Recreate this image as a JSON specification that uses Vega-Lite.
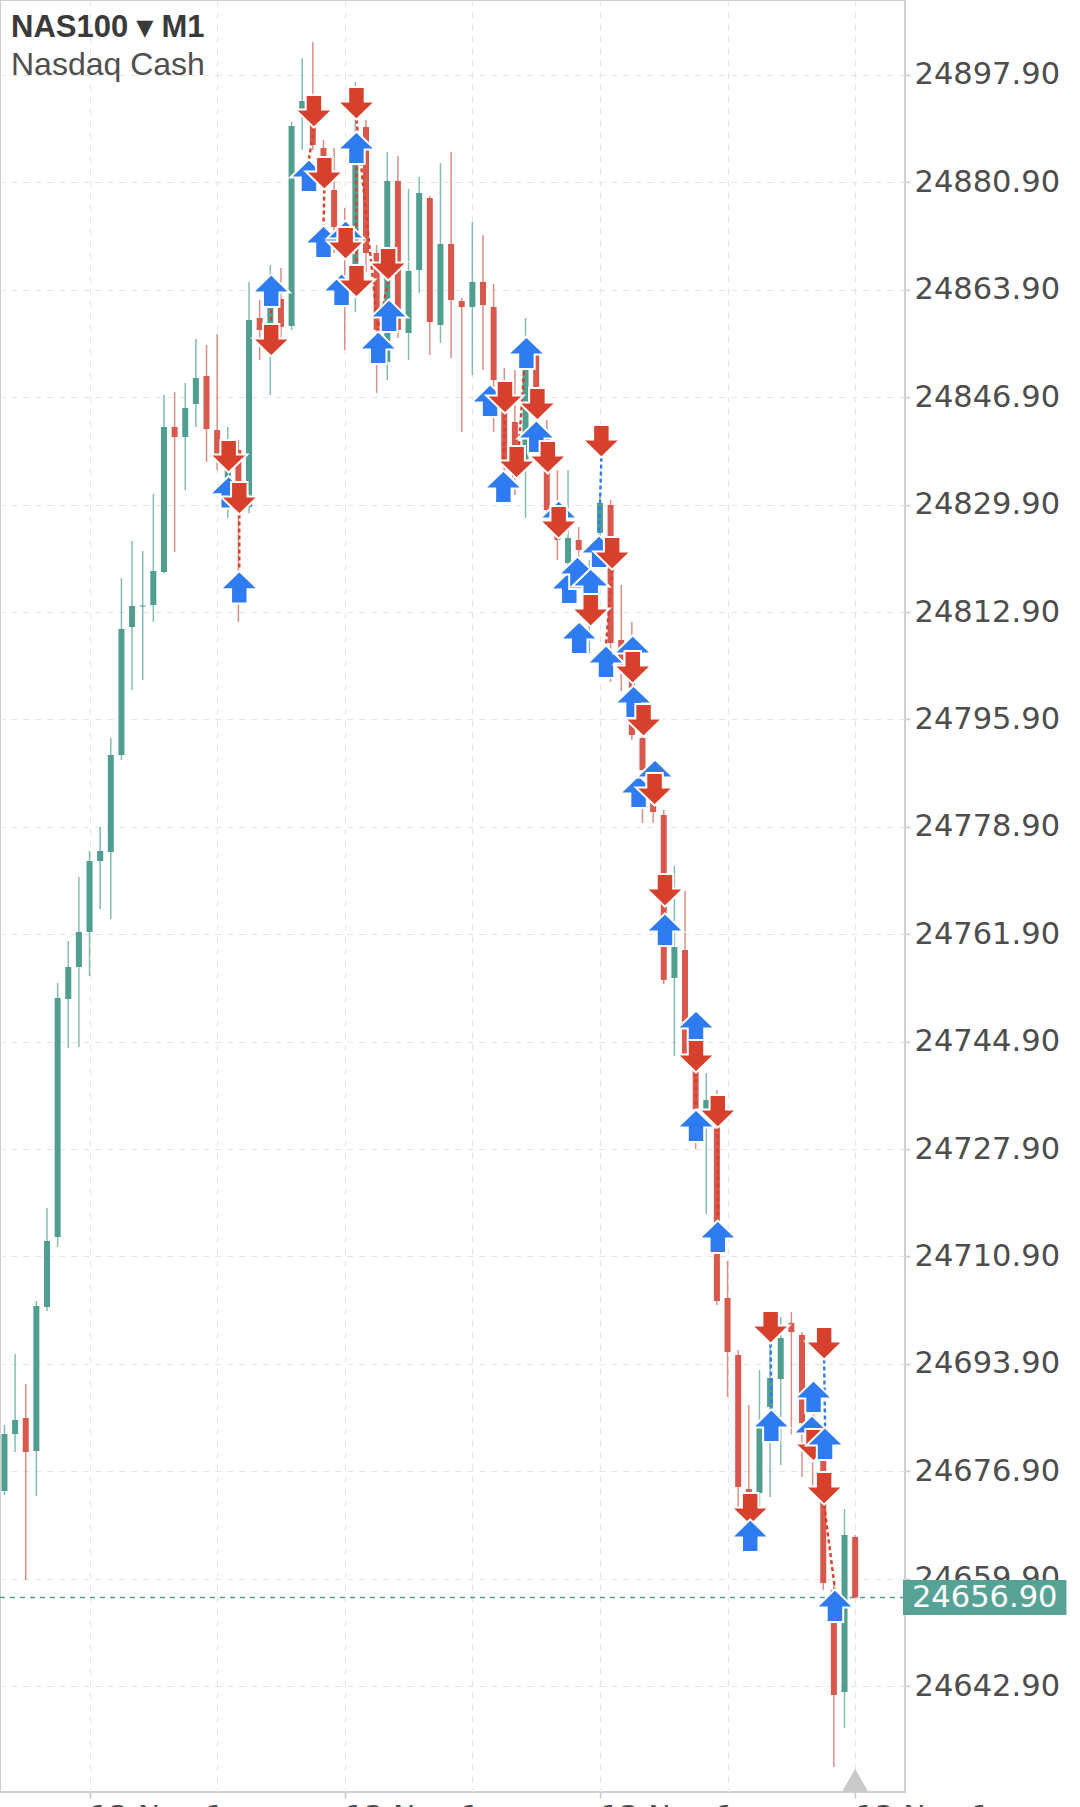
{
  "$schema": "https://vega.github.io/schema/vega-lite/v6.json",
  "width": 905,
  "height": 1792,
  "autosize": {"type": "none"},
  "padding": {"left": 0, "top": 0, "right": 175, "bottom": 15},
  "background": "white",
  "title": {
    "text": "NAS100 ▾ M1",
    "subtitle": "Nasdaq Cash",
    "anchor": "start",
    "frame": "group",
    "orient": "top",
    "offset": -82,
    "dx": 11,
    "font": "Liberation Sans",
    "fontSize": 31,
    "fontWeight": "bold",
    "color": "#3a3a3a",
    "subtitleFont": "Liberation Sans",
    "subtitleFontSize": 32,
    "subtitleFontWeight": "normal",
    "subtitleColor": "#505050",
    "subtitlePadding": 6
  },
  "datasets": {
    "candles": [
      {"t":"2025-11-13T16:48:00","o":24673.78,"h":24684.22,"l":24673.14,"c":24682.80},
      {"t":"2025-11-13T16:49:00","o":24682.80,"h":24695.46,"l":24679.95,"c":24685.01},
      {"t":"2025-11-13T16:50:00","o":24685.33,"h":24690.71,"l":24659.69,"c":24679.95},
      {"t":"2025-11-13T16:51:00","o":24680.11,"h":24703.85,"l":24672.98,"c":24703.06},
      {"t":"2025-11-13T16:52:00","o":24702.90,"h":24718.57,"l":24702.27,"c":24713.34},
      {"t":"2025-11-13T16:53:00","o":24713.98,"h":24754.18,"l":24712.39,"c":24751.81},
      {"t":"2025-11-13T16:54:00","o":24751.65,"h":24760.83,"l":24743.89,"c":24756.71},
      {"t":"2025-11-13T16:55:00","o":24756.71,"h":24770.96,"l":24744.05,"c":24762.25},
      {"t":"2025-11-13T16:56:00","o":24762.25,"h":24775.07,"l":24755.29,"c":24773.49},
      {"t":"2025-11-13T16:57:00","o":24773.49,"h":24778.87,"l":24765.89,"c":24775.07},
      {"t":"2025-11-13T16:58:00","o":24774.92,"h":24792.96,"l":24764.31,"c":24790.27},
      {"t":"2025-11-13T16:59:00","o":24790.27,"h":24818.28,"l":24789.48,"c":24810.21},
      {"t":"2025-11-13T17:00:00","o":24810.53,"h":24824.14,"l":24800.56,"c":24813.85},
      {"t":"2025-11-13T17:01:00","o":24813.77,"h":24822.56,"l":24802.14,"c":24813.93},
      {"t":"2025-11-13T17:02:00","o":24814.01,"h":24831.58,"l":24811.32,"c":24819.39},
      {"t":"2025-11-13T17:03:00","o":24819.23,"h":24847.25,"l":24819.08,"c":24842.18},
      {"t":"2025-11-13T17:04:00","o":24842.18,"h":24847.72,"l":24822.40,"c":24840.60},
      {"t":"2025-11-13T17:05:00","o":24840.60,"h":24849.15,"l":24832.21,"c":24845.19},
      {"t":"2025-11-13T17:06:00","o":24845.82,"h":24856.11,"l":24842.18,"c":24849.94},
      {"t":"2025-11-13T17:07:00","o":24850.26,"h":24855.16,"l":24836.64,"c":24841.87},
      {"t":"2025-11-13T17:08:00","o":24841.71,"h":24856.90,"l":24835.38,"c":24837.44},
      {"t":"2025-11-13T17:09:00","o":24833.80,"h":24842.18,"l":24827.78,"c":24835.38},
      {"t":"2025-11-13T17:10:00","o":24838.54,"h":24840.13,"l":24811.32,"c":24833.00},
      {"t":"2025-11-13T17:11:00","o":24829.52,"h":24865.14,"l":24828.57,"c":24859.12},
      {"t":"2025-11-13T17:12:00","o":24859.44,"h":24862.29,"l":24852.79,"c":24857.54},
      {"t":"2025-11-13T17:13:00","o":24857.54,"h":24867.83,"l":24847.25,"c":24862.29},
      {"t":"2025-11-13T17:14:00","o":24862.44,"h":24867.35,"l":24855.95,"c":24858.01},
      {"t":"2025-11-13T17:15:00","o":24858.17,"h":24890.46,"l":24857.54,"c":24889.83},
      {"t":"2025-11-13T17:16:00","o":24892.04,"h":24900.59,"l":24886.03,"c":24893.78},
      {"t":"2025-11-13T17:17:00","o":24894.26,"h":24903.12,"l":24886.03,"c":24886.82},
      {"t":"2025-11-13T17:18:00","o":24886.34,"h":24887.61,"l":24879.70,"c":24883.97},
      {"t":"2025-11-13T17:19:00","o":24879.70,"h":24886.34,"l":24869.73,"c":24873.84},
      {"t":"2025-11-13T17:20:00","o":24873.05,"h":24876.85,"l":24854.37,"c":24869.41},
      {"t":"2025-11-13T17:21:00","o":24866.72,"h":24896.79,"l":24860.39,"c":24884.92},
      {"t":"2025-11-13T17:22:00","o":24889.67,"h":24890.78,"l":24866.72,"c":24869.73},
      {"t":"2025-11-13T17:23:00","o":24869.73,"h":24870.99,"l":24847.57,"c":24857.54},
      {"t":"2025-11-13T17:24:00","o":24852.47,"h":24885.71,"l":24849.62,"c":24881.12},
      {"t":"2025-11-13T17:25:00","o":24881.12,"h":24885.08,"l":24856.27,"c":24857.54},
      {"t":"2025-11-13T17:26:00","o":24857.06,"h":24879.86,"l":24852.79,"c":24866.88},
      {"t":"2025-11-13T17:27:00","o":24867.03,"h":24881.75,"l":24863.39,"c":24879.22},
      {"t":"2025-11-13T17:28:00","o":24878.43,"h":24878.75,"l":24853.58,"c":24858.80},
      {"t":"2025-11-13T17:29:00","o":24858.33,"h":24883.97,"l":24855.48,"c":24871.15},
      {"t":"2025-11-13T17:30:00","o":24871.15,"h":24885.71,"l":24853.11,"c":24862.29},
      {"t":"2025-11-13T17:31:00","o":24862.13,"h":24862.60,"l":24841.39,"c":24861.18},
      {"t":"2025-11-13T17:32:00","o":24861.18,"h":24874.63,"l":24850.41,"c":24865.14},
      {"t":"2025-11-13T17:33:00","o":24865.14,"h":24872.57,"l":24851.21,"c":24861.49},
      {"t":"2025-11-13T17:34:00","o":24861.18,"h":24864.82,"l":24841.39,"c":24849.62},
      {"t":"2025-11-13T17:35:00","o":24848.83,"h":24851.52,"l":24830.16,"c":24836.96},
      {"t":"2025-11-13T17:36:00","o":24842.98,"h":24851.21,"l":24831.42,"c":24834.27},
      {"t":"2025-11-13T17:37:00","o":24836.96,"h":24859.44,"l":24827.78,"c":24852.00},
      {"t":"2025-11-13T17:38:00","o":24853.90,"h":24855.16,"l":24840.13,"c":24843.61},
      {"t":"2025-11-13T17:39:00","o":24840.60,"h":24843.29,"l":24827.46,"c":24829.05},
      {"t":"2025-11-13T17:40:00","o":24829.84,"h":24835.38,"l":24821.13,"c":24824.30},
      {"t":"2025-11-13T17:41:00","o":24820.66,"h":24835.38,"l":24815.28,"c":24824.62},
      {"t":"2025-11-13T17:42:00","o":24824.30,"h":24826.36,"l":24821.13,"c":24822.72},
      {"t":"2025-11-13T17:43:00","o":24814.80,"h":24821.13,"l":24806.41,"c":24815.28},
      {"t":"2025-11-13T17:44:00","o":24825.41,"h":24831.42,"l":24823.51,"c":24830.16},
      {"t":"2025-11-13T17:45:00","o":24829.84,"h":24830.63,"l":24801.82,"c":24808.00},
      {"t":"2025-11-13T17:46:00","o":24808.47,"h":24817.18,"l":24800.40,"c":24803.56},
      {"t":"2025-11-13T17:47:00","o":24803.41,"h":24811.32,"l":24792.64,"c":24793.43},
      {"t":"2025-11-13T17:48:00","o":24792.96,"h":24798.50,"l":24779.51,"c":24787.89},
      {"t":"2025-11-13T17:49:00","o":24787.58,"h":24789.48,"l":24779.51,"c":24781.25},
      {"t":"2025-11-13T17:50:00","o":24780.77,"h":24781.56,"l":24754.02,"c":24754.66},
      {"t":"2025-11-13T17:51:00","o":24754.97,"h":24772.70,"l":24742.63,"c":24759.88},
      {"t":"2025-11-13T17:52:00","o":24759.40,"h":24768.74,"l":24741.99,"c":24742.63},
      {"t":"2025-11-13T17:53:00","o":24741.99,"h":24743.58,"l":24727.91,"c":24734.24},
      {"t":"2025-11-13T17:54:00","o":24733.92,"h":24739.94,"l":24717.62,"c":24735.66},
      {"t":"2025-11-13T17:55:00","o":24736.30,"h":24737.24,"l":24703.21,"c":24703.85},
      {"t":"2025-11-13T17:56:00","o":24704.32,"h":24710.18,"l":24688.65,"c":24695.77},
      {"t":"2025-11-13T17:57:00","o":24695.30,"h":24696.09,"l":24670.77,"c":24674.41},
      {"t":"2025-11-13T17:58:00","o":24674.09,"h":24687.39,"l":24664.44,"c":24673.62},
      {"t":"2025-11-13T17:59:00","o":24673.46,"h":24692.93,"l":24671.24,"c":24683.90},
      {"t":"2025-11-13T18:00:00","o":24687.07,"h":24700.05,"l":24672.83,"c":24691.66},
      {"t":"2025-11-13T18:01:00","o":24691.50,"h":24701.31,"l":24677.89,"c":24697.99},
      {"t":"2025-11-13T18:02:00","o":24700.37,"h":24702.11,"l":24682.64,"c":24698.94},
      {"t":"2025-11-13T18:03:00","o":24698.47,"h":24698.94,"l":24675.99,"c":24684.54},
      {"t":"2025-11-13T18:04:00","o":24684.22,"h":24688.18,"l":24674.25,"c":24678.68},
      {"t":"2025-11-13T18:05:00","o":24679.47,"h":24681.85,"l":24658.10,"c":24659.21},
      {"t":"2025-11-13T18:06:00","o":24658.10,"h":24658.90,"l":24630.09,"c":24641.49},
      {"t":"2025-11-13T18:07:00","o":24641.96,"h":24670.93,"l":24636.26,"c":24666.81},
      {"t":"2025-11-13T18:08:00","o":24666.49,"h":24666.80,"l":24656.90,"c":24656.90}
    ],
    "trades": [
      {"t1":"2025-11-13T17:10:05","p1":24828.32,"t2":"2025-11-13T17:10:05","p2":24819.39,"side":"sell"},
      {"t1":"2025-11-13T17:13:05","p1":24866.34,"t2":"2025-11-13T17:13:05","p2":24853.33,"side":"sell"},
      {"t1":"2025-11-13T17:17:06","p1":24889.57,"t2":"2025-11-13T17:16:38","p2":24884.54,"side":"sell"},
      {"t1":"2025-11-13T17:18:05","p1":24879.76,"t2":"2025-11-13T17:18:00","p2":24874.09,"side":"sell"},
      {"t1":"2025-11-13T17:21:06","p1":24890.84,"t2":"2025-11-13T17:23:09","p2":24857.32,"side":"sell"},
      {"t1":"2025-11-13T17:21:06","p1":24888.97,"t2":"2025-11-13T17:21:06","p2":24862.67,"side":"sell"},
      {"t1":"2025-11-13T17:24:05","p1":24865.36,"t2":"2025-11-13T17:23:09","p2":24857.32,"side":"sell"},
      {"t1":"2025-11-13T17:35:04","p1":24844.31,"t2":"2025-11-13T17:34:55","p2":24835.31,"side":"sell"},
      {"t1":"2025-11-13T17:37:05","p1":24856.52,"t2":"2025-11-13T17:36:10","p2":24834.02,"side":"sell"},
      {"t1":"2025-11-13T17:38:01","p1":24843.23,"t2":"2025-11-13T17:39:06","p2":24834.81,"side":"buy"},
      {"t1":"2025-11-13T17:44:08","p1":24837.34,"t2":"2025-11-13T17:43:55","p2":24825.03,"side":"buy"},
      {"t1":"2025-11-13T17:45:09","p1":24819.61,"t2":"2025-11-13T17:44:34","p2":24807.62,"side":"sell"},
      {"t1":"2025-11-13T17:53:02","p1":24740.00,"t2":"2025-11-13T17:53:02","p2":24734.17,"side":"sell"},
      {"t1":"2025-11-13T17:55:05","p1":24731.29,"t2":"2025-11-13T17:55:05","p2":24716.60,"side":"sell"},
      {"t1":"2025-11-13T18:00:03","p1":24697.10,"t2":"2025-11-13T18:00:07","p2":24686.69,"side":"buy"},
      {"t1":"2025-11-13T18:04:05","p1":24691.28,"t2":"2025-11-13T18:04:05","p2":24678.43,"side":"sell"},
      {"t1":"2025-11-13T18:05:05","p1":24694.57,"t2":"2025-11-13T18:05:10","p2":24683.84,"side":"buy"},
      {"t1":"2025-11-13T18:05:05","p1":24671.62,"t2":"2025-11-13T18:06:06","p2":24658.20,"side":"sell"}
    ],
    "orders": [
      {"t":"2025-11-13T17:09:05","p":24834.97,"side":"sell"},
      {"t":"2025-11-13T17:09:05","p":24834.43,"side":"buy"},
      {"t":"2025-11-13T17:10:05","p":24828.32,"side":"sell"},
      {"t":"2025-11-13T17:10:05","p":24819.39,"side":"buy"},
      {"t":"2025-11-13T17:13:05","p":24866.34,"side":"buy"},
      {"t":"2025-11-13T17:13:05","p":24853.33,"side":"sell"},
      {"t":"2025-11-13T17:16:38","p":24884.54,"side":"buy"},
      {"t":"2025-11-13T17:17:06","p":24889.57,"side":"sell"},
      {"t":"2025-11-13T17:18:00","p":24874.09,"side":"buy"},
      {"t":"2025-11-13T17:18:05","p":24879.76,"side":"sell"},
      {"t":"2025-11-13T17:19:42","p":24866.50,"side":"buy"},
      {"t":"2025-11-13T17:20:05","p":24874.89,"side":"buy"},
      {"t":"2025-11-13T17:20:05","p":24868.68,"side":"sell"},
      {"t":"2025-11-13T17:21:06","p":24862.67,"side":"sell"},
      {"t":"2025-11-13T17:21:06","p":24890.84,"side":"sell"},
      {"t":"2025-11-13T17:21:06","p":24888.97,"side":"buy"},
      {"t":"2025-11-13T17:23:09","p":24857.32,"side":"buy"},
      {"t":"2025-11-13T17:24:05","p":24865.36,"side":"sell"},
      {"t":"2025-11-13T17:24:10","p":24862.38,"side":"buy"},
      {"t":"2025-11-13T17:33:40","p":24848.93,"side":"buy"},
      {"t":"2025-11-13T17:35:04","p":24844.31,"side":"sell"},
      {"t":"2025-11-13T17:34:55","p":24835.31,"side":"buy"},
      {"t":"2025-11-13T17:36:10","p":24834.02,"side":"sell"},
      {"t":"2025-11-13T17:37:05","p":24856.52,"side":"buy"},
      {"t":"2025-11-13T17:38:07","p":24843.20,"side":"sell"},
      {"t":"2025-11-13T17:38:01","p":24843.23,"side":"buy"},
      {"t":"2025-11-13T17:39:06","p":24834.81,"side":"sell"},
      {"t":"2025-11-13T17:40:07","p":24830.57,"side":"buy"},
      {"t":"2025-11-13T17:40:07","p":24824.52,"side":"sell"},
      {"t":"2025-11-13T17:41:07","p":24819.33,"side":"buy"},
      {"t":"2025-11-13T17:41:53","p":24821.70,"side":"buy"},
      {"t":"2025-11-13T17:43:08","p":24819.80,"side":"buy"},
      {"t":"2025-11-13T17:43:08","p":24810.59,"side":"sell"},
      {"t":"2025-11-13T17:42:03","p":24811.41,"side":"buy"},
      {"t":"2025-11-13T17:44:08","p":24837.34,"side":"sell"},
      {"t":"2025-11-13T17:43:55","p":24825.03,"side":"buy"},
      {"t":"2025-11-13T17:45:09","p":24819.61,"side":"sell"},
      {"t":"2025-11-13T17:44:34","p":24807.62,"side":"buy"},
      {"t":"2025-11-13T17:47:05","p":24809.20,"side":"buy"},
      {"t":"2025-11-13T17:47:05","p":24801.57,"side":"sell"},
      {"t":"2025-11-13T17:47:10","p":24801.28,"side":"buy"},
      {"t":"2025-11-13T17:48:06","p":24793.18,"side":"sell"},
      {"t":"2025-11-13T17:47:38","p":24787.04,"side":"buy"},
      {"t":"2025-11-13T17:49:11","p":24789.57,"side":"buy"},
      {"t":"2025-11-13T17:49:08","p":24782.26,"side":"sell"},
      {"t":"2025-11-13T17:50:07","p":24766.27,"side":"sell"},
      {"t":"2025-11-13T17:50:07","p":24765.20,"side":"buy"},
      {"t":"2025-11-13T17:53:02","p":24749.84,"side":"buy"},
      {"t":"2025-11-13T17:53:02","p":24740.00,"side":"sell"},
      {"t":"2025-11-13T17:53:02","p":24734.17,"side":"buy"},
      {"t":"2025-11-13T17:55:05","p":24731.29,"side":"sell"},
      {"t":"2025-11-13T17:55:05","p":24716.60,"side":"buy"},
      {"t":"2025-11-13T17:58:08","p":24668.30,"side":"sell"},
      {"t":"2025-11-13T17:58:08","p":24669.28,"side":"buy"},
      {"t":"2025-11-13T18:00:03","p":24697.10,"side":"sell"},
      {"t":"2025-11-13T18:00:07","p":24686.69,"side":"buy"},
      {"t":"2025-11-13T18:05:05","p":24694.57,"side":"sell"},
      {"t":"2025-11-13T18:04:05","p":24691.28,"side":"buy"},
      {"t":"2025-11-13T18:03:56","p":24685.74,"side":"buy"},
      {"t":"2025-11-13T18:04:05","p":24678.43,"side":"sell"},
      {"t":"2025-11-13T18:05:10","p":24683.84,"side":"buy"},
      {"t":"2025-11-13T18:05:05","p":24671.62,"side":"sell"},
      {"t":"2025-11-13T18:06:06","p":24658.20,"side":"buy"}
    ],
    "last": [
      {"p":24656.9,"label":"24656.90","ta":"2025-11-13T18:12:30","tb":"2025-11-13T18:27:52","tc":"2025-11-13T18:20:11","pa":24659.69,"pb":24654.15,"tn":"2025-11-13T18:08:00","pmin":24626.13}
    ]
  },
  "layer": [
    {
      "data": {"name": "last"},
      "mark": {"type": "rule", "color": "#4f9e8f", "strokeDash": [5, 5], "strokeWidth": 1.5},
      "encoding": {
        "y": {
          "field": "p", "type": "quantitative", "title": null,
          "scale": {"domain": [24626.13, 24909.77], "nice": false, "zero": false},
          "axis": {
            "orient": "right",
            "title": null,
            "values": [24642.9, 24659.9, 24676.9, 24693.9, 24710.9, 24727.9, 24744.9, 24761.9, 24778.9, 24795.9, 24812.9, 24829.9, 24846.9, 24863.9, 24880.9, 24897.9],
            "format": ".2f",
            "grid": true,
            "gridColor": "#e4e4e4",
            "gridDash": [6, 6],
            "gridWidth": 1,
            "domain": false,
            "ticks": true,
            "tickSize": 5,
            "tickColor": "#cccccc",
            "tickWidth": 1.5,
            "labelPadding": 4,
            "labelFont": "DejaVu Sans",
            "labelFontSize": 30.5,
            "labelColor": "#4d4d4d",
            "labelOverlap": false,
            "labelFlush": false,
            "labelBound": false
          }
        }
      }
    },
    {
      "data": {"name": "candles"},
      "mark": {"type": "rule", "strokeWidth": 1.5, "opacity": 0.75},
      "encoding": {
        "x": {
          "field": "t", "type": "temporal", "title": null,
          "scale": {"domain": [
            {"year": 2025, "month": 11, "date": 13, "hours": 16, "minutes": 48, "seconds": 3},
            {"year": 2025, "month": 11, "date": 13, "hours": 18, "minutes": 12, "seconds": 13}
          ], "nice": false},
          "axis": {
            "orient": "bottom",
            "title": null,
            "values": [
              {"year": 2025, "month": 11, "date": 13, "hours": 16, "minutes": 56},
              {"year": 2025, "month": 11, "date": 13, "hours": 17, "minutes": 8},
              {"year": 2025, "month": 11, "date": 13, "hours": 17, "minutes": 20},
              {"year": 2025, "month": 11, "date": 13, "hours": 17, "minutes": 32},
              {"year": 2025, "month": 11, "date": 13, "hours": 17, "minutes": 44},
              {"year": 2025, "month": 11, "date": 13, "hours": 17, "minutes": 56},
              {"year": 2025, "month": 11, "date": 13, "hours": 18, "minutes": 8}
            ],
            "labelExpr": "((hours(datum.value) * 60 + minutes(datum.value)) % 24) == 8 ? timeFormat(datum.value, '%d %b %H:%M') : ''",
            "grid": true,
            "gridColor": "#e4e4e4",
            "gridDash": [6, 6],
            "gridWidth": 1,
            "domain": false,
            "ticks": true,
            "tickSize": 6,
            "tickWidth": 1.5,
            "tickColor": {"condition": {"test": "((hours(datum.value) * 60 + minutes(datum.value)) % 24) == 8", "value": "#c4c4c4"}, "value": "transparent"},
            "labelAlign": "left",
            "labelBaseline": "top",
            "labelPadding": 4,
            "labelDx": 6,
            "labelFont": "DejaVu Sans",
            "labelFontSize": 30,
            "labelColor": "#4d4d4d",
            "labelOverlap": false,
            "labelFlush": false,
            "labelBound": false
          }
        },
        "y": {"field": "l", "type": "quantitative", "title": null},
        "y2": {"field": "h"},
        "color": {"condition": {"test": "datum.c >= datum.o", "value": "#5aa698"}, "value": "#cf6a62"}
      }
    },
    {
      "data": {"name": "candles"},
      "mark": {"type": "bar", "size": 6},
      "encoding": {
        "x": {"field": "t", "type": "temporal", "title": null},
        "y": {"field": "o", "type": "quantitative", "title": null},
        "y2": {"field": "c"},
        "color": {"condition": {"test": "datum.c >= datum.o", "value": "#4f9e8f"}, "value": "#d9584d"}
      }
    },
    {
      "data": {"name": "trades"},
      "mark": {"type": "rule", "strokeDash": [4, 3], "strokeWidth": 2.4},
      "encoding": {
        "x": {"field": "t1", "type": "temporal", "title": null},
        "x2": {"field": "t2"},
        "y": {"field": "p1", "type": "quantitative", "title": null},
        "y2": {"field": "p2"},
        "color": {"field": "side", "type": "nominal", "scale": {"domain": ["buy", "sell"], "range": ["#2f7cf2", "#d6402c"]}, "legend": null}
      }
    },
    {
      "data": {"name": "orders"},
      "mark": {"type": "point", "filled": true, "size": 1400, "stroke": "white", "strokeWidth": 2, "opacity": 1},
      "encoding": {
        "x": {"field": "t", "type": "temporal", "title": null},
        "y": {"field": "p", "type": "quantitative", "title": null},
        "shape": {"field": "side", "type": "nominal", "scale": {"domain": ["buy", "sell"], "range": ["M0,0L1,0.97L0.44,0.97L0.44,1.74L-0.44,1.74L-0.44,0.97L-1,0.97Z", "M0,0L1,-0.97L0.44,-0.97L0.44,-1.74L-0.44,-1.74L-0.44,-0.97L-1,-0.97Z"]}, "legend": null},
        "fill": {"field": "side", "type": "nominal", "scale": {"domain": ["buy", "sell"], "range": ["#2f7cf2", "#d6402c"]}, "legend": null}
      }
    },
    {
      "data": {"name": "last"},
      "mark": {"type": "rect", "color": "#56a294"},
      "encoding": {
        "x": {"field": "ta", "type": "temporal", "title": null},
        "x2": {"field": "tb"},
        "y": {"field": "pa", "type": "quantitative", "title": null},
        "y2": {"field": "pb"}
      }
    },
    {
      "data": {"name": "last"},
      "mark": {"type": "text", "color": "white", "font": "DejaVu Sans", "fontSize": 30.5, "align": "center", "baseline": "middle"},
      "encoding": {
        "x": {"field": "tc", "type": "temporal", "title": null},
        "y": {"field": "p", "type": "quantitative", "title": null},
        "text": {"field": "label"}
      }
    },
    {
      "data": {"name": "last"},
      "mark": {"type": "point", "filled": true, "size": 700, "color": "#c9c9c9", "shape": "M0,-1.75L1,0L-1,0Z", "opacity": 1},
      "encoding": {
        "x": {"field": "tn", "type": "temporal", "title": null},
        "y": {"field": "pmin", "type": "quantitative", "title": null}
      }
    }
  ],
  "config": {
    "view": {"stroke": "#cfcfcf", "strokeWidth": 2}
  }
}
